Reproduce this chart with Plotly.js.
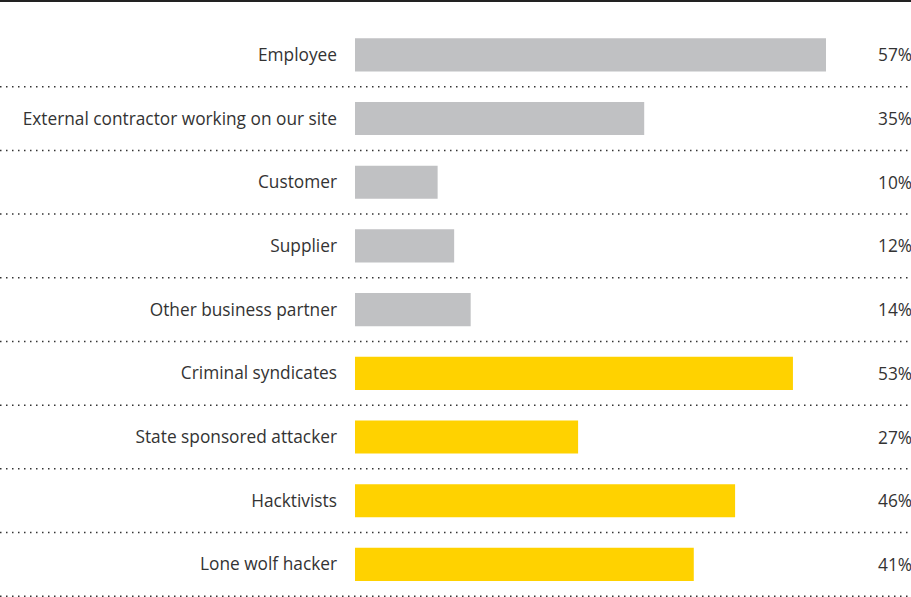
<!DOCTYPE html>
<html>
<head>
<meta charset="utf-8">
<script src="https://cdn.plot.ly/plotly-3.0.1.min.js"></script>
<style>html,body{margin:0;padding:0;background:#fff;}#chart{width:911px;height:597px;}</style>
</head>
<body>
<div id="chart"></div>
<script>
var categories = ["Employee", "External contractor working on our site", "Customer", "Supplier", "Other business partner", "Criminal syndicates", "State sponsored attacker", "Hacktivists", "Lone wolf hacker"];
var values = [57, 35, 10, 12, 14, 53, 27, 46, 41];
var groups = ["insider", "insider", "insider", "insider", "insider", "outsider", "outsider", "outsider", "outsider"];
var groupColors = {insider: "#c0c1c3", outsider: "#ffd200"};

var W = 911, H = 597, L = 355, T = 23;
var plotW = W - L, plotH = H - T;
var FONT = "Open Sans, Liberation Sans, Arial, sans-serif";

var shapes = [];
// solid top rule
shapes.push({type: "line", xref: "paper", yref: "paper", x0: -L / plotW, x1: 1, y0: 1 + 22 / plotH, y1: 1 + 22 / plotH, line: {color: "#222", width: 2}});
// dotted separators under each row
for (var i = 0; i < categories.length; i++) {
  shapes.push({type: "line", xref: "paper", yref: "y", x0: -L / plotW, x1: 1, y0: i + 0.5, y1: i + 0.5, line: {color: "#333", width: 1.5, dash: "1.5px,4.5px"}});
}

var annotations = categories.map(function (c, i) {
  return {xref: "paper", yref: "y", x: 1, y: c, text: values[i] + "%", showarrow: false, xanchor: "right", yanchor: "middle", xshift: 2, borderpad: 0,
    font: {family: FONT, size: 17.3, color: "#333"}};
});

var trace = {
  type: "bar",
  orientation: "h",
  y: categories,
  x: values,
  marker: {color: groups.map(function (g) { return groupColors[g]; })},
  width: 0.52,
  hoverinfo: "none"
};

var layout = {
  width: W, height: H,
  margin: {l: L, r: 0, t: T, b: 0, pad: 0},
  paper_bgcolor: "#fff", plot_bgcolor: "#fff",
  showlegend: false,
  xaxis: {range: [0, plotW / 8.263], showgrid: false, zeroline: false, showticklabels: false, showline: false, fixedrange: true},
  yaxis: {type: "category", autorange: "reversed", showgrid: false, zeroline: false, showline: false, ticks: "", ticklabelstandoff: 17,
    tickfont: {family: FONT, size: 17.3, color: "#333"}},
  shapes: shapes,
  annotations: annotations
};

Plotly.newPlot("chart", [trace], layout, {displayModeBar: false, staticPlot: true});
</script>
</body>
</html>
